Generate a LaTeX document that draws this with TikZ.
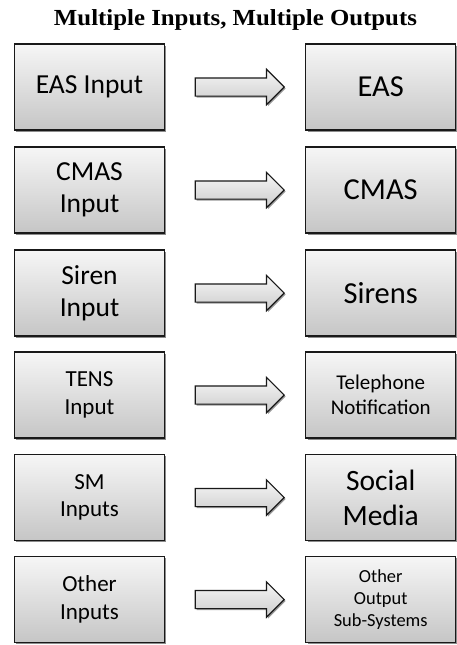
\documentclass[tikz,border=0pt]{standalone}
\usepackage{fontspec}
\setmainfont{Carlito}
\newfontfamily\titlefont[FakeStretch=1.08]{Liberation Serif}
\usetikzlibrary{shapes.arrows,shadows,calc,positioning}

\tikzset{
  sysbox/.style={draw=black!90, line width=1.2pt, top color=gray!7, bottom color=gray!45,
    minimum width=150pt, minimum height=86pt, align=center, inner sep=2pt,
    drop shadow={shadow xshift=1.8pt, shadow yshift=-1.8pt, opacity=1, fill=black!45}},
  fatarrow/.style={single arrow, draw=black!90, line width=1.2pt, top color=gray!7, bottom color=gray!40,
    minimum height=89pt, inner xsep=0pt, inner ysep=8.5pt, single arrow head extend=8.5pt,
    drop shadow={shadow xshift=1.5pt, shadow yshift=-1.5pt, opacity=1, fill=black!40}},
  bigtxt/.style={font=\fontsize{27.5}{32}\selectfont},
  hugetxt/.style={font=\fontsize{30.5}{35}\selectfont},
  midtxt/.style={font=\fontsize{23}{27.5}\selectfont},
  smalltxt/.style={font=\fontsize{21}{25}\selectfont},
  tinytxt/.style={font=\fontsize{18.4}{21.7}\selectfont}
}

\begin{document}
\begin{tikzpicture}[x=1pt, y=1pt]
\useasboundingbox (0,0) rectangle (457,-645);

\node[font=\titlefont\bfseries\fontsize{23}{26}\selectfont, anchor=base] (title) at (235.5,-25) {Multiple Inputs, Multiple Outputs};

% inputs
\node[sysbox, bigtxt] (in1) at (89.5,-87) {EAS Input};
\node[sysbox, bigtxt] (in2) at (89.5,-190) {CMAS\\Input};
\node[sysbox, bigtxt] (in3) at (89.5,-293) {Siren\\Input};
\node[sysbox, midtxt] (in4) at (89.5,-395) {TENS\\Input};
\node[sysbox, midtxt] (in5) at (89.5,-497.5) {SM\\Inputs};
\node[sysbox, midtxt] (in6) at (89.5,-599.5) {Other\\Inputs};

% outputs
\node[sysbox, hugetxt, right=140pt of in1] (out1) {EAS};
\node[sysbox, hugetxt, right=140pt of in2] (out2) {CMAS};
\node[sysbox, hugetxt, right=140pt of in3] (out3) {Sirens};
\node[sysbox, smalltxt, right=140pt of in4] (out4) {Telephone\\Notification};
\node[sysbox, font=\fontsize{29.5}{35}\selectfont, right=140pt of in5] (out5) {Social\\Media};
\node[sysbox, tinytxt, right=140pt of in6] (out6) {Other\\Output\\Sub-Systems};

% arrows
\node[fatarrow] (arr1) at ($(in1.east)!0.5!(out1.west)$) {};
\node[fatarrow] (arr2) at ($(in2.east)!0.5!(out2.west)$) {};
\node[fatarrow] (arr3) at ($(in3.east)!0.5!(out3.west)$) {};
\node[fatarrow] (arr4) at ($(in4.east)!0.5!(out4.west)$) {};
\node[fatarrow] (arr5) at ($(in5.east)!0.5!(out5.west)$) {};
\node[fatarrow] (arr6) at ($(in6.east)!0.5!(out6.west)$) {};

\end{tikzpicture}
\end{document}
